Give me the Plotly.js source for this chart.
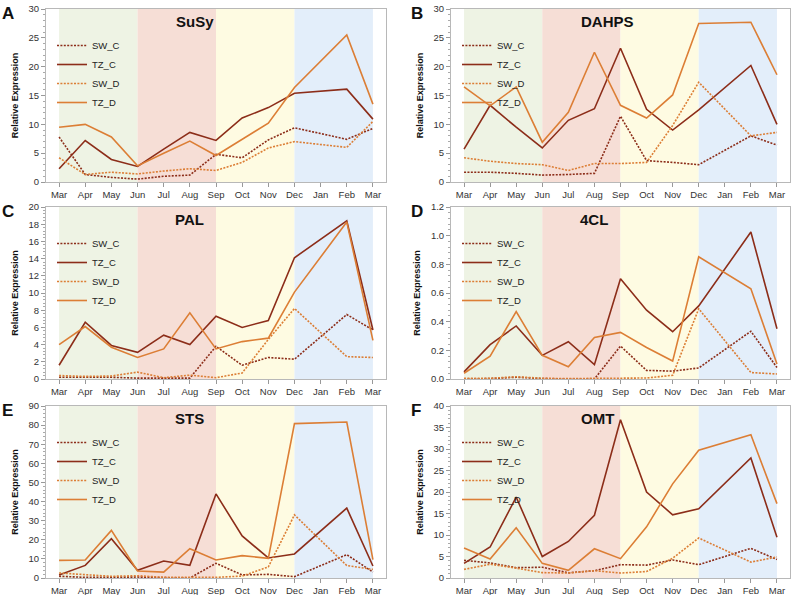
<!DOCTYPE html>
<html>
<head>
<meta charset="utf-8">
<script src="https://cdn.plot.ly/plotly-3.0.1.min.js"></script>
<style>
  html, body { margin: 0; padding: 0; background: #fff; }
  #chart { width: 793px; height: 595px; }
</style>
</head>
<body>
<div id="chart"></div>
<script>
/* global Plotly */

const MONTHS = ["Mar", "Apr", "May", "Jun", "Jul", "Aug", "Sep", "Oct", "Nov", "Dec", "Jan", "Feb", "Mar"];
const SERIES_NAMES = ["SW_C", "TZ_C", "SW_D", "TZ_D"];
const PANEL_LETTERS = ["A", "B", "C", "D", "E", "F"];
const PANEL_TITLES = ["SuSy", "DAHPS", "PAL", "4CL", "STS", "OMT"];

// Jan was not sampled: null, lines are joined across it
const susySwC = [7.8, 1.3, 0.8, 0.5, 1.0, 1.2, 4.8, 4.2, 7.3, 9.4, null, 7.4, 9.3];
const susyTzC = [2.3, 7.2, 3.9, 2.7, 5.7, 8.6, 7.2, 11.1, 12.9, 15.4, null, 16.1, 10.9];
const susySwD = [4.2, 1.3, 1.7, 1.4, 1.9, 2.3, 2.0, 3.4, 5.9, 7.0, null, 6.0, 10.5];
const susyTzD = [9.5, 10.0, 7.8, 2.8, 5.0, 7.1, 4.6, 7.4, 10.2, 16.4, null, 25.5, 13.5];

const dahpsSwC = [1.7, 1.7, 1.5, 1.2, 1.3, 1.5, 11.4, 3.7, 3.4, 3.0, null, 8.0, 6.4];
const dahpsTzC = [5.7, 13.3, 9.5, 5.9, 10.7, 12.7, 23.2, 12.6, 9.0, 12.5, null, 20.2, 10.0];
const dahpsSwD = [4.2, 3.6, 3.2, 3.0, 2.0, 3.2, 3.2, 3.4, 9.8, 17.3, null, 8.0, 8.6];
const dahpsTzD = [16.5, 13.2, 16.5, 6.9, 12.1, 22.5, 13.3, 11.1, 15.1, 27.5, null, 27.7, 18.6];

const palSwC = [0.2, 0.2, 0.2, 0.1, 0.1, 0.1, 3.8, 1.6, 2.5, 2.3, null, 7.5, 5.7];
const palTzC = [1.6, 6.6, 3.9, 3.1, 5.1, 4.0, 7.3, 6.0, 6.8, 14.1, null, 18.4, 5.7];
const palSwD = [0.4, 0.3, 0.35, 0.8, 0.15, 0.45, 0.15, 0.7, 4.6, 8.2, null, 2.6, 2.5];
const palTzD = [4.0, 6.1, 3.7, 2.5, 3.5, 7.7, 3.5, 4.35, 4.75, 10.1, null, 18.25, 4.5];

const clSwC = [0.0, 0.003, 0.012, 0.003, 0.0, 0.0, 0.23, 0.06, 0.055, 0.077, null, 0.333, 0.08];
const clTzC = [0.05, 0.24, 0.37, 0.165, 0.26, 0.10, 0.70, 0.48, 0.33, 0.51, null, 1.025, 0.35];
const clSwD = [0.005, 0.005, 0.016, 0.005, 0.003, 0.003, 0.003, 0.007, 0.026, 0.49, null, 0.045, 0.035];
const clTzD = [0.04, 0.16, 0.47, 0.165, 0.085, 0.29, 0.325, 0.22, 0.125, 0.853, null, 0.63, 0.105];

const stsSwC = [0.9, 0.35, 0.35, 0.5, 0.2, 0.0, 7.7, 1.6, 1.9, 0.7, null, 12.2, 3.1];
const stsTzC = [1.6, 6.6, 20.6, 4.0, 8.9, 6.6, 44.0, 22.0, 10.5, 12.6, null, 36.6, 6.3];
const stsSwD = [2.6, 1.7, 0.9, 1.2, 0.35, 0.35, 0.35, 1.0, 5.8, 33.0, null, 6.5, 4.5];
const stsTzD = [9.2, 9.4, 24.9, 3.7, 3.1, 15.3, 9.4, 11.7, 10.3, 80.8, null, 81.6, 9.6];

const omtSwC = [4.1, 3.5, 2.4, 2.5, 1.2, 1.7, 3.1, 3.0, 4.2, 3.1, null, 6.9, 4.3];
const omtTzC = [3.4, 7.2, 18.8, 5.0, 8.5, 14.6, 36.8, 20.0, 14.7, 16.1, null, 27.9, 9.5];
const omtSwD = [2.0, 3.2, 2.3, 1.25, 1.15, 1.7, 1.15, 1.5, 4.6, 9.3, null, 3.7, 4.9];
const omtTzD = [7.0, 4.4, 11.7, 3.4, 1.8, 6.8, 4.5, 11.9, 21.9, 29.7, null, 33.3, 17.3];

const PANEL_DATA = [
  [susySwC, susyTzC, susySwD, susyTzD],
  [dahpsSwC, dahpsTzC, dahpsSwD, dahpsTzD],
  [palSwC, palTzC, palSwD, palTzD],
  [clSwC, clTzC, clSwD, clTzD],
  [stsSwC, stsTzC, stsSwD, stsTzD],
  [omtSwC, omtTzC, omtSwD, omtTzD],
];

const Y_MAX = [30, 30, 20, 1.2, 90, 40];
const Y_DTICK = [5, 5, 2, 0.2, 10, 5];
const TITLE_X = [5.2, 5.5, 5.0, 5.0, 5.0, 5.1];

// seasons: Mar-Jun, Jun-Sep, Sep-Dec, Dec-Mar
const SEASON_BOUNDS = [[0, 3], [3, 6], [6, 9], [9, 12]];
const SEASON_COLORS = ["#eef3e4", "#f6ded6", "#fefbe2", "#e3eefa"];

const LINE_STYLES = [
  { color: "#8c2d19", dash: "2px,1.4px" },
  { color: "#8c2d19", dash: "solid" },
  { color: "#dc7e35", dash: "2px,1.4px" },
  { color: "#dc7e35", dash: "solid" },
];

const W = 793;
const H = 595;
const COL_X = [[46, 386], [451, 790]];
const ROW_Y = [[9, 182], [207, 379], [406, 578]];

const FONT = "Liberation Sans, Arial, sans-serif";
const xIdx = MONTHS.map((m, i) => i);

const traces = [];
const shapes = [];
const annotations = [];
const layout = {
  width: W,
  height: H,
  margin: { l: 0, r: 0, t: 0, b: 0 },
  paper_bgcolor: "#fff",
  plot_bgcolor: "rgba(0,0,0,0)",
  font: { family: FONT, color: "#222", size: 9 },
  showlegend: true,
};

PANEL_TITLES.forEach((title, p) => {
  const col = p % 2;
  const row = Math.floor(p / 2);
  const n = p === 0 ? "" : String(p + 1);
  const xa = "x" + n;
  const ya = "y" + n;
  const legendId = "legend" + n;
  const [px0, px1] = COL_X[col];
  const [py0, py1] = ROW_Y[row];

  PANEL_DATA[p].forEach((vals, s) => {
    traces.push({
      x: xIdx,
      y: vals,
      type: "scatter",
      mode: "lines",
      name: SERIES_NAMES[s],
      xaxis: xa,
      yaxis: ya,
      legend: legendId,
      connectgaps: true,
      line: { color: LINE_STYLES[s].color, dash: LINE_STYLES[s].dash, width: 1.6 },
      hoverinfo: "skip",
    });
  });

  layout["xaxis" + n] = {
    domain: [px0 / W, px1 / W],
    anchor: ya,
    range: [-0.5, 12.5],
    tickvals: xIdx,
    ticktext: MONTHS,
    ticks: "outside",
    ticklen: 4,
    tickcolor: "#999",
    showgrid: false,
    zeroline: false,
    showline: true,
    linecolor: "#b8b8b8",
    mirror: true,
    tickfont: { size: 9.5, color: "#333" },
    automargin: false,
    fixedrange: true,
  };
  layout["yaxis" + n] = {
    domain: [1 - py1 / H, 1 - py0 / H],
    anchor: xa,
    range: [0, Y_MAX[p]],
    dtick: Y_DTICK[p],
    tickformat: p === 3 ? ".1f" : "",
    ticks: "outside",
    ticklen: 4,
    tickcolor: "#999",
    minor: { ticks: "outside", ticklen: 2, dtick: Y_DTICK[p] / 5, tickcolor: "#aaa", showgrid: false },
    showgrid: false,
    zeroline: false,
    showline: true,
    linecolor: "#b8b8b8",
    mirror: true,
    tickfont: { size: 9.5, color: "#333" },
    title: { text: "Relative Expression", font: { size: 9, color: "#111", weight: "bold" }, standoff: 8 },
    automargin: false,
    fixedrange: true,
  };

  layout[legendId] = {
    x: (px0 + 6) / W,
    y: 1 - (py0 + 22) / H,
    xanchor: "left",
    yanchor: "top",
    bgcolor: "rgba(0,0,0,0)",
    borderwidth: 0,
    font: { size: 9.5, color: "#222" },
    itemwidth: 30,
    tracegroupgap: 0,
  };

  SEASON_BOUNDS.forEach(([a, b], k) => {
    shapes.push({
      type: "rect",
      xref: xa,
      yref: ya + " domain",
      x0: a,
      x1: b,
      y0: 0,
      y1: 1,
      fillcolor: SEASON_COLORS[k],
      line: { width: 0 },
      layer: "below",
    });
  });

  annotations.push({
    text: "<b>" + title + "</b>",
    xref: xa,
    yref: ya + " domain",
    x: TITLE_X[p],
    y: 0.925,
    xanchor: "center",
    yanchor: "middle",
    showarrow: false,
    font: { size: 15, color: "#111" },
  });
  annotations.push({
    text: "<b>" + PANEL_LETTERS[p] + "</b>",
    xref: "paper",
    yref: "paper",
    x: (col === 0 ? 0 : 409) / W,
    y: 1 - (py0 - 7) / H,
    xanchor: "left",
    yanchor: "top",
    showarrow: false,
    font: { size: 17, color: "#111" },
  });
});

layout.shapes = shapes;
layout.annotations = annotations;

Plotly.newPlot("chart", traces, layout, { displayModeBar: false, staticPlot: true });
</script>
</body>
</html>
